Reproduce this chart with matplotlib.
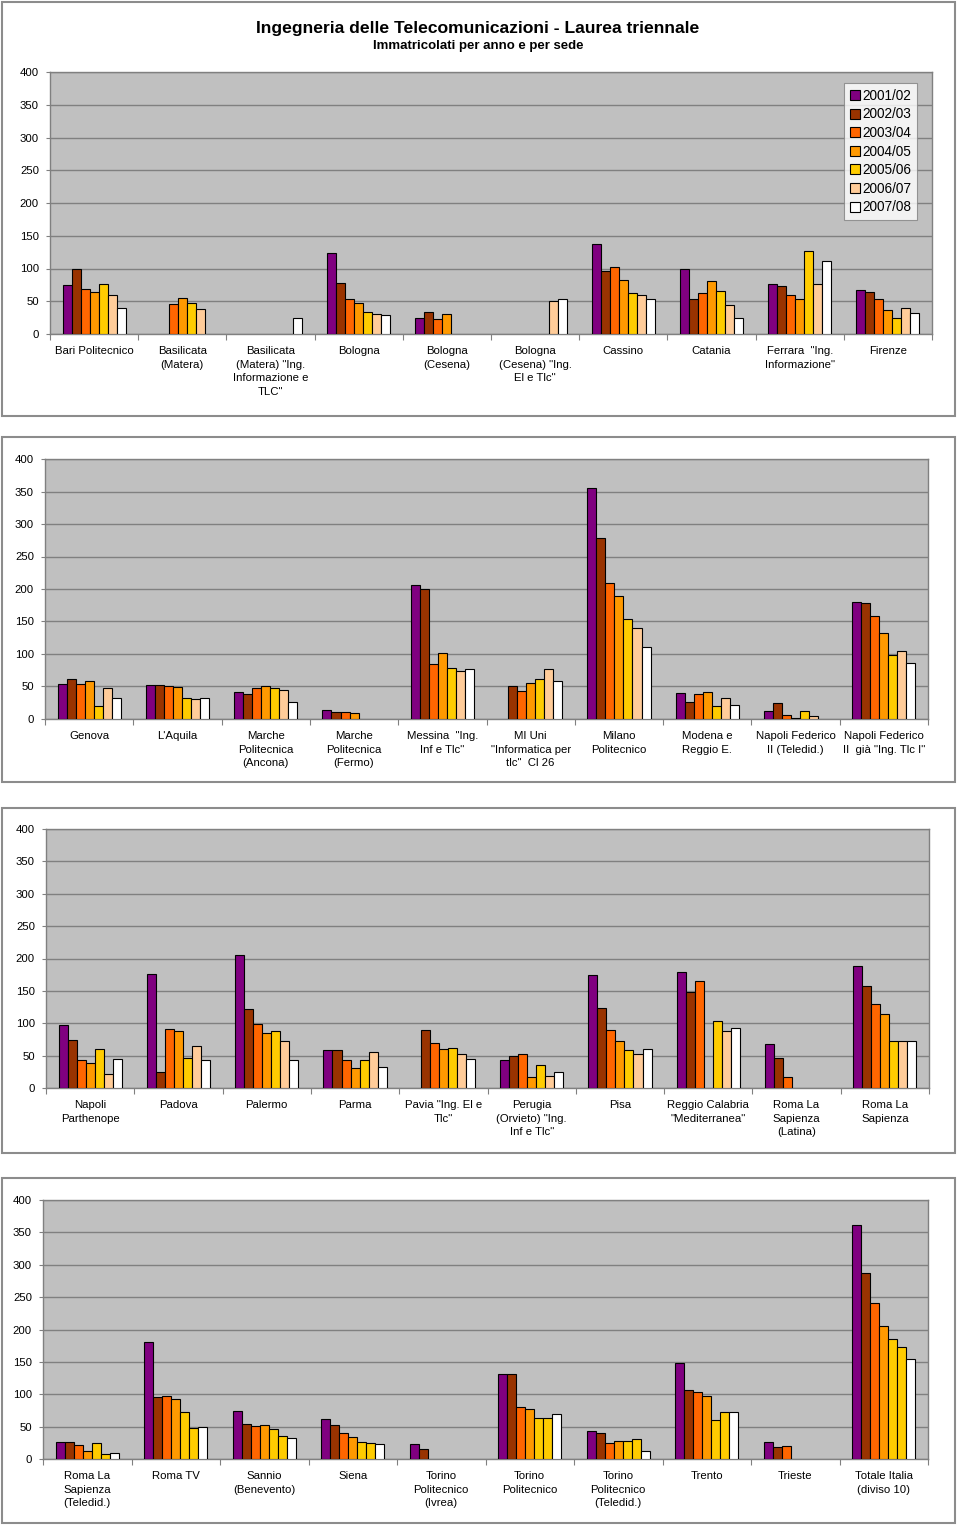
import matplotlib
matplotlib.use("Agg")
import matplotlib.pyplot as plt
from matplotlib.patches import Rectangle, Patch
import numpy as np

plt.rcParams['font.family'] = ['Liberation Sans', 'DejaVu Sans']

nan = np.nan

years = ["2001/02", "2002/03", "2003/04", "2004/05", "2005/06", "2006/07", "2007/08"]
colors = ["#800080", "#993300", "#FF6600", "#FF9900", "#FFCC00", "#FFCC99", "#FFFFFF"]
colors_p4 = ["#800080", "#993300", "#FF6600", "#FF9900", "#FFCC00", "#FFCC00", "#FFFFFF"]

title = "Ingegneria delle Telecomunicazioni - Laurea triennale"
subtitle = "Immatricolati per anno e per sede"

cats_p1 = ["Bari Politecnico", "Basilicata\n(Matera)", "Basilicata\n(Matera) \"Ing.\nInformazione e\nTLC\"",
           "Bologna", "Bologna\n(Cesena)", "Bologna\n(Cesena) \"Ing.\nEl e Tlc\"", "Cassino", "Catania",
           "Ferrara  \"Ing.\nInformazione\"", "Firenze"]
vals_p1 = [
    [75, nan, nan, 124, 24, nan, 137, 100, 77, 67],
    [100, nan, nan, 78, 34, nan, 96, 54, 74, 64],
    [68, 46, nan, 53, 23, nan, 103, 63, 59, 53],
    [64, 55, nan, 47, 31, nan, 82, 81, 53, 37],
    [76, 48, nan, 33, nan, nan, 62, 65, 127, 24],
    [59, 38, nan, 30, nan, 50, 59, 44, 77, 40],
    [39, nan, 24, 29, nan, 53, 53, 24, 111, 32],
]

cats_p2 = ["Genova", "L'Aquila", "Marche\nPolitecnica\n(Ancona)", "Marche\nPolitecnica\n(Fermo)",
           "Messina  \"Ing.\nInf e Tlc\"", "MI Uni\n\"Informatica per\ntlc\"  Cl 26", "Milano\nPolitecnico",
           "Modena e\nReggio E.", "Napoli Federico\nII (Teledid.)", "Napoli Federico\nII  già \"Ing. Tlc I\""]
vals_p2 = [
    [54, 53, 41, 14, 206, nan, 356, 40, 13, 180],
    [61, 53, 39, 10, 200, 51, 279, 26, 25, 179],
    [54, 51, 47, 11, 85, 43, 209, 38, 6, 159],
    [59, 49, 51, 9, 102, 55, 190, 42, 2, 133],
    [20, 32, 48, nan, 78, 62, 154, 20, 13, 98],
    [47, 30, 44, nan, 74, 77, 140, 33, 4, 104],
    [32, 32, 26, nan, 77, 58, 110, 22, nan, 86],
]

cats_p3 = ["Napoli\nParthenope", "Padova", "Palermo", "Parma", "Pavia \"Ing. El e\nTlc\"",
           "Perugia\n(Orvieto) \"Ing.\nInf e Tlc\"", "Pisa", "Reggio Calabria\n\"Mediterranea\"",
           "Roma La\nSapienza\n(Latina)", "Roma La\nSapienza"]
vals_p3 = [
    [97, 176, 206, 58, nan, 44, 175, 179, 68, 189],
    [74, 24, 122, 58, 89, 49, 123, 149, 47, 158],
    [43, 91, 99, 44, 70, 53, 90, 165, 17, 129],
    [38, 88, 85, 31, 61, 17, 73, nan, nan, 115],
    [60, 46, 88, 44, 62, 36, 58, 104, nan, 73],
    [22, 65, 73, 56, 53, 18, 53, 88, nan, 72],
    [45, 43, 44, 33, 45, 24, 60, 92, nan, 73],
]

cats_p4 = ["Roma La\nSapienza\n(Teledid.)", "Roma TV", "Sannio\n(Benevento)", "Siena",
           "Torino\nPolitecnico\n(Ivrea)", "Torino\nPolitecnico", "Torino\nPolitecnico\n(Teledid.)",
           "Trento", "Trieste", "Totale Italia\n(diviso 10)"]
vals_p4 = [
    [26, 181, 74, 62, 23, 132, 44, 148, 27, 362],
    [26, 95, 54, 52, 15, 132, 40, 106, 18, 287],
    [22, 97, 51, 40, nan, 81, 25, 103, 20, 241],
    [13, 93, 52, 34, nan, 77, 28, 97, nan, 205],
    [24, 72, 46, 27, nan, 63, 28, 61, nan, 186],
    [7, 48, 35, 24, nan, 64, 31, 72, nan, 173],
    [10, 49, 33, 23, nan, 70, 13, 72, nan, 154],
]

yticks = [0, 50, 100, 150, 200, 250, 300, 350, 400]

W, H = 960, 1526
fig = plt.figure(figsize=(W / 100, H / 100), dpi=100)


def fx(px):
    return px / W


def fy(py):
    return 1 - py / H


# panel frames (pixels: x0, y0, x1, y1)
frames = [(2, 2, 955, 416), (2, 437, 955, 782), (2, 808, 955, 1153), (2, 1178, 955, 1523)]
for (x0, y0, x1, y1) in frames:
    fig.patches.append(Rectangle((fx(x0), fy(y1)), fx(x1 - x0), (y1 - y0) / H,
                                 transform=fig.transFigure, fill=False,
                                 edgecolor="#8c8c8c", linewidth=1.5))

# plot areas (pixels: left, top, right, bottom)
areas = [(50, 72, 932, 334), (45, 459, 928, 719), (46, 829, 929, 1088), (43, 1200, 928, 1459)]
panels = [(cats_p1, vals_p1, colors), (cats_p2, vals_p2, colors),
          (cats_p3, vals_p3, colors), (cats_p4, vals_p4, colors_p4)]

bw = 1 / (7 + 2.78)
axes = []
for (l, t, r, b), (cats, vals, cols) in zip(areas, panels):
    ax = fig.add_axes([fx(l), fy(b), fx(r - l), (b - t) / H])
    ax.set_facecolor("#C0C0C0")
    x = np.arange(len(cats))
    for j in range(7):
        v = np.array(vals[j], dtype=float)
        ax.bar(x + (j - 3) * bw, v, width=bw, color=cols[j], edgecolor="black",
               linewidth=0.8, zorder=3, label=years[j])
    ax.set_xlim(-0.5, len(cats) - 0.5)
    ax.set_ylim(0, 400)
    ax.set_yticks(yticks)
    ax.set_yticklabels([str(v) for v in yticks], fontsize=8.2)
    ax.yaxis.grid(True, color="#808080", linewidth=1.0, zorder=1)
    ax.set_axisbelow(True)
    ax.set_xticks(np.arange(len(cats) + 1) - 0.5)
    ax.set_xticklabels([])
    ax.set_xticks(x, cats, minor=True)
    ax.tick_params(axis="x", which="minor", length=0, pad=8.5, labelsize=8.2)
    ax.tick_params(axis="x", which="major", length=4, color="#808080", direction="out")
    ax.tick_params(axis="y", length=3, color="#808080", pad=5)
    for lbl in ax.get_xticklabels(minor=True):
        lbl.set_multialignment("center")
        lbl.set_linespacing(1.48)
    for s in ax.spines.values():
        s.set_color("#808080")
        s.set_linewidth(1.0)
    axes.append(ax)

fig.text(fx(478), fy(28), title, ha="center", va="center", fontsize=12.6, fontweight="bold")
fig.text(fx(478), fy(46.5), subtitle, ha="center", va="center", fontsize=9.5, fontweight="bold")

handles = [Patch(facecolor=c, edgecolor="black", linewidth=0.8) for c in colors]
leg = fig.legend(handles, years, loc="upper right", bbox_to_anchor=(fx(917), fy(83)),
                 fontsize=9.8, frameon=True, fancybox=False, handlelength=0.75, handleheight=0.75,
                 handletextpad=0.15, labelspacing=0.34, borderpad=0.42, borderaxespad=0)
leg.get_frame().set_edgecolor("#808080")
leg.get_frame().set_linewidth(0.8)

fig.savefig("out.png", dpi=100, facecolor="white")
